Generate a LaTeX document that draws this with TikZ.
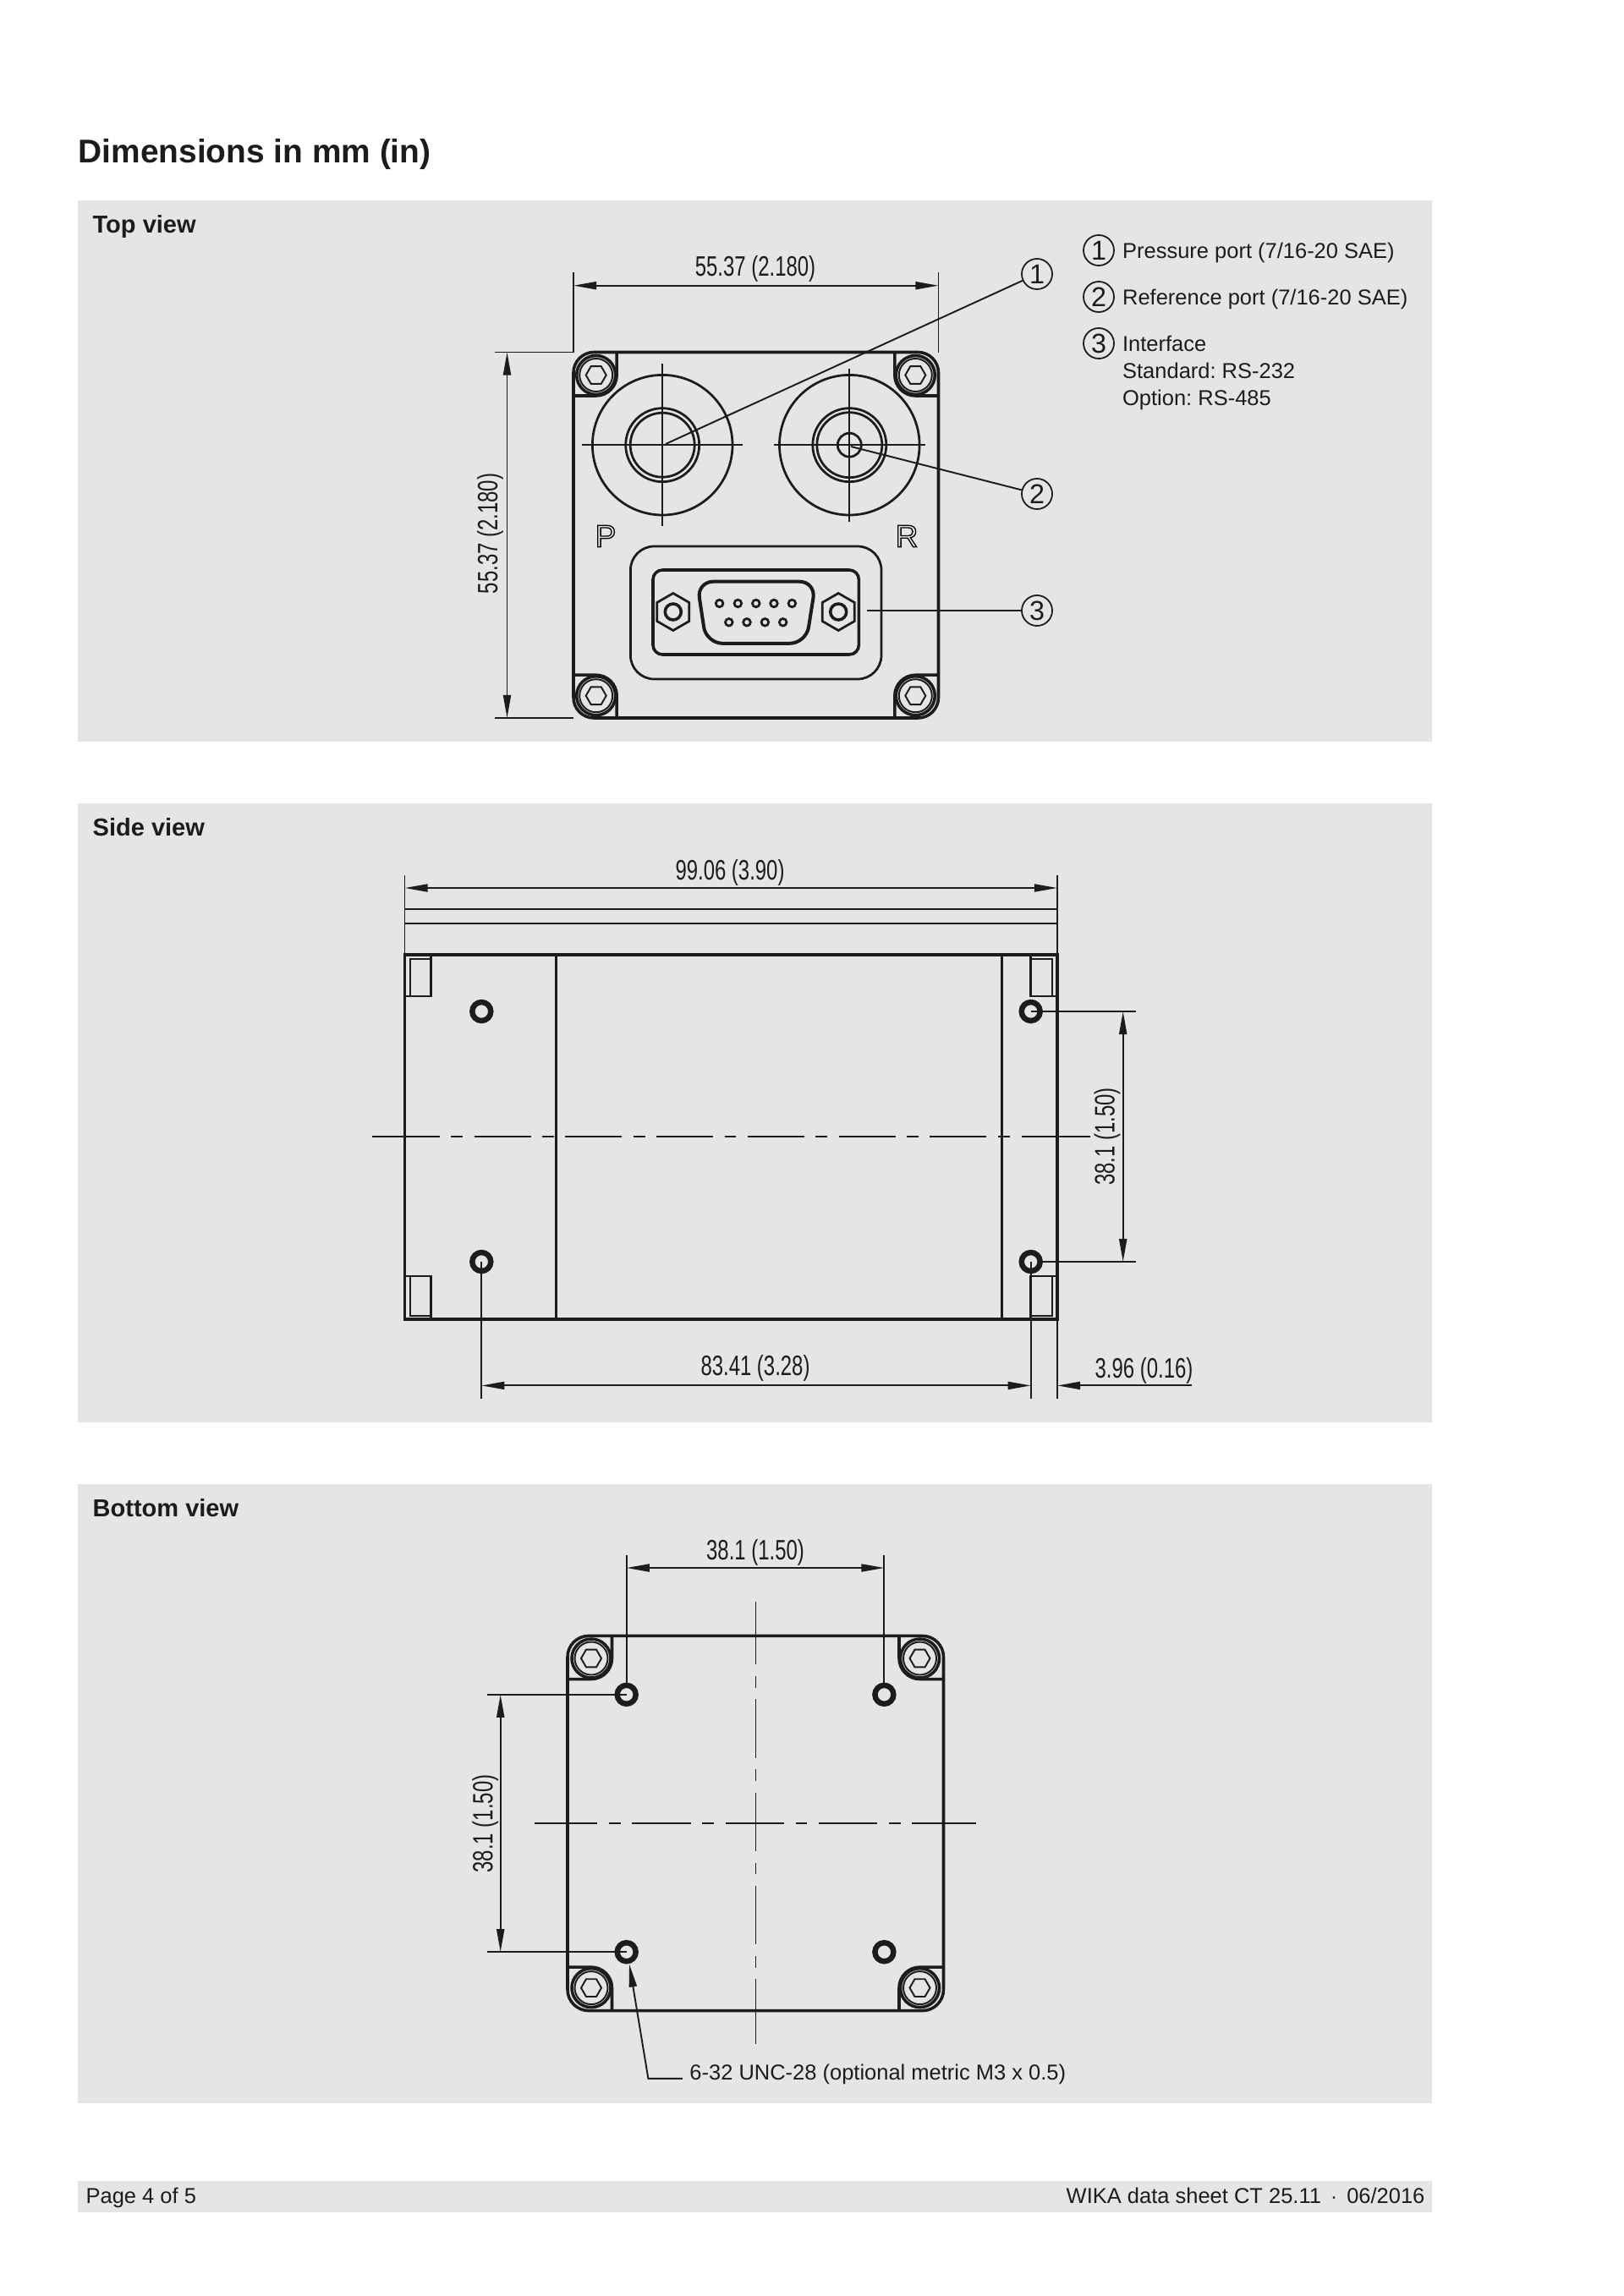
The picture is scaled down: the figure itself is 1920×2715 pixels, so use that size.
\documentclass[tikz,border=0pt]{standalone}
\usepackage{fontspec}
\usepackage{graphicx}
\setmainfont{Liberation Sans}
\usetikzlibrary{arrows.meta}
\definecolor{panelgray}{HTML}{E4E5E7}
\definecolor{inkline}{HTML}{1C1C1C}
\frenchspacing
% narrow figures of the dimension labels
\newcommand{\dimtxt}[1]{\scalebox{.72}[1]{#1}}
% letter drawn as outline
\newcommand{\outlinetxt}[1]{\special{pdf:code 1 Tr 0.4 w}#1\special{pdf:code 0 Tr}}
% hexagon
\newcommand{\hexpath}[1]{(0:#1) -- (60:#1) -- (120:#1) -- (180:#1) -- (240:#1) -- (300:#1) -- cycle}
% screw in a corner recess
\newcommand{\cornerscrew}{
	\draw[bodyline] (24.5,-27.5) -- (24.5,0) arc[start angle=0, end angle=90, radius=24.5] -- (-27.5,24.5);
	\draw[bodyline] (0,0) circle (23);
	\draw[thinline] (0,0) circle (19.5);
	\draw[thinline] \hexpath{12};
}
\tikzset{
	panel/.style={fill=panelgray, draw=none},
	bodyline/.style={line width=1.1pt, color=inkline},
	midline/.style={line width=.85pt, color=inkline},
	thinline/.style={line width=.6pt, color=inkline},
	centreline/.style={line width=.6pt, color=inkline, dash pattern=on #1 off 4.2pt on 4.3pt off 4.2pt},
	holering/.style={line width=2pt, color=inkline},
	dimlabel/.style={font=\fontsize{10.3}{12}\selectfont, text=inkline, inner sep=0pt},
	plaintxt/.style={font=\fontsize{7.9}{9.9}\selectfont, text=inkline, inner sep=0pt},
	viewtitle/.style={font=\fontsize{9}{11}\selectfont\bfseries, text=inkline, inner sep=0pt, anchor=base west},
	callout/.style={circle, draw=inkline, line width=.55pt, minimum size=36*.31pt, inner sep=0pt,
		font=\fontsize{10}{12}\selectfont, text=inkline}
}
\begin{document}
\begin{tikzpicture}[x=.31pt, y=-.31pt, >={Stealth[length=8.4pt, width=2.8pt, inset=0pt]}]
	\useasboundingbox (0,0) rectangle (1920,2715);
	% Panels
	\fill[panel] (92,237) rectangle (1693,877);
	\fill[panel] (92,950) rectangle (1693,1682);
	\fill[panel] (92,1755) rectangle (1693,2487);
	\fill[panel] (92,2579) rectangle (1693,2616);
	% Titles
	\node[font=\fontsize{12.05}{14}\selectfont\bfseries, text=inkline, inner sep=0pt, anchor=base west] (pagetitle) at (92,192) {Dimensions in mm (in)};
	\node[viewtitle] (toptitle) at (109,275) {Top view};
	\node[viewtitle] (sidetitle) at (109,988) {Side view};
	\node[viewtitle] (bottomtitle) at (109,1793) {Bottom view};
	\node[plaintxt, anchor=base west] (pagenum) at (101,2605) {Page 4 of 5};
	\node[plaintxt, anchor=base east] (sheetname) at (1685,2605) {WIKA data sheet CT 25.11 \,$\cdot$\, 06/2016};
	% Legend
	\node[callout] (lgone) at (1299,296) {1};
	\node[callout] (lgtwo) at (1299,351) {2};
	\node[callout] (lgthree) at (1299,406) {3};
	\node[plaintxt, anchor=base west] (lgporta) at (1326.5,305) {Pressure port (7/16-20 SAE)};
	\node[plaintxt, anchor=base west] (lgportb) at (1326.5,360) {Reference port (7/16-20 SAE)};
	\node[plaintxt, anchor=base west] (lgiface) at (1326.5,415) {Interface};
	\node[plaintxt, anchor=base west] (lgstd) at (1326.5,447) {Standard: RS-232};
	\node[plaintxt, anchor=base west] (lgopt) at (1326.5,479) {Option: RS-485};
	
	\begin{scope}[xshift=.31pt]
	% Top view: body
	\draw[bodyline, rounded corners=7.5pt] (677,416.5) rectangle (1108.5,849);
	\foreach \cx/\cy/\sx/\sy in {703.7/443.5/1/1, 1081.3/443.5/-1/1, 703.7/822.7/1/-1, 1081.3/822.7/-1/-1}
	{
		\begin{scope}[shift={(\cx,\cy)}, xscale=\sx, yscale=\sy]
			\cornerscrew
		\end{scope}
	}
	% Ports
	\coordinate (pport) at (786,525);
	\coordinate (rport) at (1005,528);
	\draw[midline] (782.2,526.2) circle (82.8);
	\draw[midline] (1003.3,526.2) circle (82.8);
	\draw[midline] (782.2,526.2) circle (43.5);
	\draw[midline] (782.2,526.2) circle (38);
	\draw[midline] (1003.3,526.2) circle (43.5);
	\draw[midline] (1003.3,526.2) circle (38.5);
	\draw[midline] (1003.3,526.2) circle (14);
	\draw[thinline] (687,526.2) -- (877,526.2);
	\draw[thinline] (782.2,430) -- (782.2,622);
	\draw[thinline] (913.6,526.2) -- (1093.4,526.2);
	\draw[thinline] (1003.3,436) -- (1003.3,616.5);
	\node[font=\fontsize{11.5}{13}\selectfont, inner sep=0pt] (plabel) at (715,634) {\outlinetxt{P}};
	\node[font=\fontsize{11.5}{13}\selectfont, inner sep=0pt] (rlabel) at (1071,634) {\outlinetxt{R}};
	% Interface
	\coordinate (iface) at (1024,722);
	\draw[midline, rounded corners=8.7pt] (744.4,646) rectangle (1041,803);
	\draw[bodyline, rounded corners=3.5pt] (771,674) rectangle (1014.4,774);
	\draw[line width=1.25pt, color=inkline, rounded corners=6pt] (823,687.7) -- (963.5,687.7) -- (952,760.8) -- (834,760.8) -- cycle;
	\foreach \px in {849.6,871.4,892.8,914,935.4}
		\draw[midline] (\px,713.5) circle (4.3);
	\foreach \px in {860.8,882,903.4,924.7}
		\draw[midline] (\px,735.8) circle (4.3);
	\foreach \px in {794.8,990.2}
	{
		\begin{scope}[shift={(\px,723.5)}]
			\draw[midline] (30:22) -- (90:22) -- (150:22) -- (210:22) -- (270:22) -- (330:22) -- cycle;
			\draw[line width=1.1pt, color=inkline] (0,0) circle (9.5);
		\end{scope}
	}
	% Top view: dimensions
	\draw[thinline] (677,322) -- (677,416.5);
	\draw[thinline] (1108.5,322) -- (1108.5,416.5);
	\draw[thinline, <->] (677,337.7) -- (1108.5,337.7);
	\draw[thinline] (584,416.5) -- (677,416.5);
	\draw[thinline] (584,849) -- (677,849);
	\draw[thinline, <->] (598.5,416.5) -- (598.5,849);
	\node[dimlabel] (topwidth) at (892,318) {\dimtxt{55.37 (2.180)}};
	\node[dimlabel, rotate=90] (topheight) at (578.5,631) {\dimtxt{55.37 (2.180)}};
	% Callouts
	\node[callout] (cone) at (1225,324) {1};
	\node[callout] (ctwo) at (1225,584) {2};
	\node[callout] (cthree) at (1225,722) {3};
	\draw[thinline] (cone) -- (pport);
	\draw[thinline] (ctwo) -- (rport);
	\draw[thinline] (cthree) -- (iface);
	
	% Side view: body
	\draw[bodyline] (477.5,1128.8) rectangle (1249,1560);
	\draw[bodyline] (656.5,1128.8) -- (656.5,1560);
	\draw[bodyline] (1183.3,1128.8) -- (1183.3,1560);
	\draw[thinline] (477.5,1075) -- (1249,1075);
	\draw[thinline] (477.5,1092.3) -- (1249,1092.3);
	% Clips in the corners
	\draw[midline] (477.5,1130) rectangle (508.3,1178);
	\draw[thinline] (484,1134) rectangle (508.3,1178);
	\draw[midline] (477.5,1509) rectangle (508.3,1560);
	\draw[thinline] (484,1509) rectangle (508.3,1556);
	\draw[midline] (1217.7,1130) rectangle (1249,1178);
	\draw[thinline] (1217.7,1134) rectangle (1243,1178);
	\draw[midline] (1217.7,1509) rectangle (1249,1560);
	\draw[thinline] (1217.7,1509) rectangle (1243,1556);
	% Holes
	\foreach \hx in {568.3,1217.7}
		\foreach \hy in {1196,1492}
			\draw[holering] (\hx,\hy) circle (11);
	% Centre line
	\draw[thinline] (439,1344.3) -- (460,1344.3);
	\draw[centreline=20.7pt] (452,1344.3) -- (1206,1344.3);
	\draw[thinline] (1206.5,1344.3) -- (1287.7,1344.3);
	% Side view: dimensions
	\draw[thinline] (477.5,1034.7) -- (477.5,1128.8);
	\draw[thinline] (1249,1034.7) -- (1249,1128.8);
	\draw[thinline, <->] (477.5,1050) -- (1249,1050);
	\node[dimlabel] (sidelength) at (862,1031.5) {\dimtxt{99.06 (3.90)}};
	\draw[thinline] (568.3,1492) -- (568.3,1653.5);
	\draw[thinline] (1217.7,1492) -- (1217.7,1653.5);
	\draw[thinline] (1249,1560) -- (1249,1653.5);
	\draw[thinline, <->] (568.3,1638.4) -- (1217.7,1638.4);
	\draw[thinline, ->] (1408,1638.4) -- (1249,1638.4);
	\node[dimlabel] (sidepitch) at (892,1618) {\dimtxt{83.41 (3.28)}};
	\node[dimlabel] (sideedge) at (1351.5,1620.5) {\dimtxt{3.96 (0.16)}};
	\draw[thinline] (1217.7,1196) -- (1342,1196);
	\draw[thinline] (1232,1492) -- (1342,1492);
	\draw[thinline, <->] (1326.7,1196) -- (1326.7,1492);
	\node[dimlabel, rotate=90] (sideholes) at (1308,1344) {\dimtxt{38.1 (1.50)}};
	
	% Bottom view: body
	\draw[bodyline, rounded corners=7.75pt] (670,1934.4) rectangle (1114.5,2377.6);
	\foreach \cx/\cy/\sx/\sy in {698/1961/1/1, 1086.5/1961/-1/1, 698/2350.6/1/-1, 1086.5/2350.6/-1/-1}
	{
		\begin{scope}[shift={(\cx,\cy)}, xscale=\sx, yscale=\sy]
			\cornerscrew
		\end{scope}
	}
	\foreach \hx in {739.7,1044.4}
		\foreach \hy in {2003.8,2308.2}
			\draw[holering] (\hx,\hy) circle (11);
	% Centre lines
	\draw[thinline] (630.7,2155.6) -- (645,2155.6);
	\draw[centreline=21.5pt] (636,2155.6) -- (1079.8,2155.6);
	\draw[thinline] (1079.8,2155.6) -- (1153.4,2155.6);
	\draw[thinline] (892.5,1894) -- (892.5,1905);
	\draw[centreline=21.5pt] (892.5,1899) -- (892.5,2342);
	\draw[thinline] (892.5,2342) -- (892.5,2417);
	% Bottom view: dimensions
	\draw[thinline] (739.7,1839) -- (739.7,1990);
	\draw[thinline] (1044.4,1839) -- (1044.4,1990);
	\draw[thinline, <->] (739.7,1854) -- (1044.4,1854);
	\node[dimlabel] (bottomwidth) at (892,1835.5) {\dimtxt{38.1 (1.50)}};
	\draw[thinline] (574.7,2003.8) -- (739.7,2003.8);
	\draw[thinline] (574.7,2308.2) -- (739.7,2308.2);
	\draw[thinline, <->] (590.7,2003.8) -- (590.7,2308.2);
	\node[dimlabel, rotate=90] (bottomheight) at (572.7,2156.5) {\dimtxt{38.1 (1.50)}};
	% Thread note
	\node[plaintxt, anchor=west] (threadnote) at (813.8,2452.5) {6-32 UNC-28 (optional metric M3 x 0.5)};
	\coordinate (threadhole) at (743,2322.5);
	\draw[thinline, ->] (threadnote.west) ++(-8,5.4) -- (765.4,2457.9) -- (threadhole);
	\end{scope}
\end{tikzpicture}
\end{document}
